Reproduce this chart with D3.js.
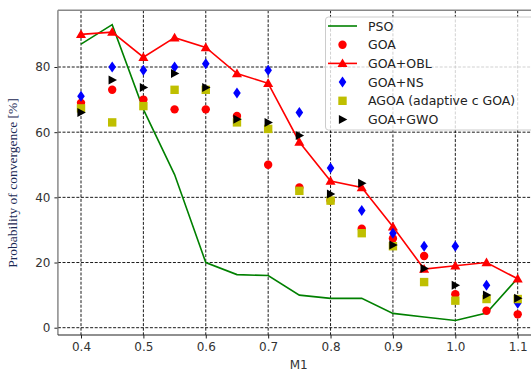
<!DOCTYPE html>
<html>
<head>
<meta charset="utf-8">
<script src="https://cdn.jsdelivr.net/npm/d3@7/dist/d3.min.js"></script>
<style>
  html, body { margin: 0; padding: 0; background: #fff; }
  svg { display: block; }
</style>
</head>
<body>
<svg id="chart" width="531" height="371"></svg>
<script>
// M1 settings on the horizontal axis
const m1 = [0.4, 0.45, 0.5, 0.55, 0.6, 0.65, 0.7, 0.75, 0.8, 0.85, 0.9, 0.95, 1.0, 1.05, 1.1];

// Probability of convergence [%] for each algorithm
const pso    = [87, 93, 67, 47, 20, 16.3, 16, 10, 9, 9, 4.4, 3.3, 2.2, 4.5, 15.2];
const goa    = [69, 73, 70, 67, 67, 65, 50, 43, 39, 30.4, 27.4, 22, 10.3, 5.2, 4.1];
const goaObl = [90, 90.7, 83, 89, 86, 78, 75, 57, 45, 43, 31, 18, 19, 20, 15];
const goaNs  = [71, 80, 79, 80, 81, 72, 79, 66, 49, 36, 29, 25, 25, 13, 7.5];
const agoa   = [67.3, 63, 68, 73, 73, 63, 61, 42, 39, 29, 25, 14, 8.3, 8.8, 8.8];
const goaGwo = [66, 76, 73.7, 78, 73.7, 64, 63, 59, 41, 44.3, 25.4, 18.2, 13, 10, 9];

const xTicks = [0.4, 0.5, 0.6, 0.7, 0.8, 0.9, 1.0, 1.1];
const yTicks = [0, 20, 40, 60, 80];

(function draw() {
  const svg = d3.select("#chart");
  const sansFont = "DejaVu Sans, sans-serif";

  const x = d3.scaleLinear().domain([0.4, 1.1]).range([81, 517.7]);
  const y = d3.scaleLinear().domain([0, 80]).range([327.7, 67]);

  const pLeft = x(0.363), pRight = x(1.135);
  const pTop = y(97.4), pBottom = y(-2.24);

  // grid
  const grid = svg.append("g");
  xTicks.forEach(t => {
    grid.append("line")
      .attr("x1", x(t)).attr("x2", x(t)).attr("y1", pTop).attr("y2", pBottom)
      .attr("stroke", "#000").attr("stroke-width", 0.9).attr("stroke-dasharray", "3,1.6");
  });
  yTicks.forEach(t => {
    grid.append("line")
      .attr("x1", pLeft).attr("x2", pRight).attr("y1", y(t)).attr("y2", y(t))
      .attr("stroke", "#000").attr("stroke-width", 0.9).attr("stroke-dasharray", "3,1.6");
  });

  // axes
  const xAxis = d3.axisBottom(x).tickValues(xTicks).tickFormat(d3.format(".1f")).tickSize(3.5).tickPadding(4);
  const yAxis = d3.axisLeft(y).tickValues(yTicks).tickFormat(d3.format("d")).tickSize(3.5).tickPadding(4);

  const gx = svg.append("g").attr("transform", `translate(0,${pBottom})`).call(xAxis);
  const gy = svg.append("g").attr("transform", `translate(${pLeft},0)`).call(yAxis);
  [gx, gy].forEach(g => {
    g.select(".domain").remove();
    g.selectAll(".tick line").attr("stroke", "#222");
    g.selectAll(".tick text")
      .attr("font-family", sansFont)
      .attr("font-size", 12)
      .attr("fill", "#333");
  });

  const lineGen = (vals) => d3.line().x((d, i) => x(m1[i])).y(d => y(d))(vals);

  // PSO line
  svg.append("path").attr("d", lineGen(pso))
    .attr("fill", "none").attr("stroke", "#008000").attr("stroke-width", 1.6);

  const marks = svg.append("g");

  // GOA circles
  marks.append("g").selectAll("circle").data(goa).join("circle")
    .attr("cx", (d, i) => x(m1[i])).attr("cy", d => y(d)).attr("r", 4.2)
    .attr("fill", "#ff0000");

  // GOA+OBL line with triangles
  marks.append("path").attr("d", lineGen(goaObl))
    .attr("fill", "none").attr("stroke", "#ff0000").attr("stroke-width", 1.6);
  const triUp = d3.symbol().type(d3.symbolTriangle).size(44);
  marks.append("g").selectAll("path").data(goaObl).join("path")
    .attr("d", triUp)
    .attr("transform", (d, i) => `translate(${x(m1[i])},${y(d) + 0.8})`)
    .attr("fill", "#ff0000");

  // GOA+NS diamonds
  const diamond = "M0,-5.5L3.8,0L0,5.5L-3.8,0Z";
  marks.append("g").selectAll("path").data(goaNs).join("path")
    .attr("d", diamond)
    .attr("transform", (d, i) => `translate(${x(m1[i])},${y(d)})`)
    .attr("fill", "#0000ff");

  // AGOA squares
  marks.append("g").selectAll("rect").data(agoa).join("rect")
    .attr("x", (d, i) => x(m1[i]) - 4.2).attr("y", d => y(d) - 4.2)
    .attr("width", 8.4).attr("height", 8.4)
    .attr("fill", "#bfbf00");

  // GOA+GWO right-pointing triangles
  const triRight = "M4.8,0L-3.6,-4.5L-3.6,4.5Z";
  marks.append("g").selectAll("path").data(goaGwo).join("path")
    .attr("d", triRight)
    .attr("transform", (d, i) => `translate(${x(m1[i])},${y(d)})`)
    .attr("fill", "#000");

  // spines
  svg.append("line").attr("x1", pLeft).attr("x2", pLeft).attr("y1", pTop).attr("y2", pBottom)
    .attr("stroke", "#777").attr("stroke-width", 1.3);
  svg.append("line").attr("x1", pLeft).attr("x2", pRight).attr("y1", pTop).attr("y2", pTop)
    .attr("stroke", "#888").attr("stroke-width", 1.5);
  svg.append("line").attr("x1", pLeft).attr("x2", pRight).attr("y1", pBottom).attr("y2", pBottom)
    .attr("stroke", "#222").attr("stroke-width", 1.2);

  // axis titles
  svg.append("text")
    .attr("x", (pLeft + pRight) / 2).attr("y", 368.5)
    .attr("text-anchor", "middle")
    .attr("font-family", sansFont).attr("font-size", 12).attr("fill", "#333")
    .text("M1");

  svg.append("text")
    .attr("transform", "translate(17,183) rotate(-90)")
    .attr("text-anchor", "middle")
    .attr("font-family", "Liberation Serif, serif").attr("font-size", 13.5).attr("fill", "#1c2a55")
    .text("Probability of convergence [%]");

  // legend
  const legend = svg.append("g");
  legend.append("rect")
    .attr("x", 325.5).attr("y", 17).attr("width", 215).attr("height", 113)
    .attr("rx", 3).attr("fill", "#fff").attr("fill-opacity", 0.8)
    .attr("stroke", "#ccc").attr("stroke-width", 1);

  const entries = [
    { name: "PSO", kind: "line", color: "#008000" },
    { name: "GOA", kind: "circle", color: "#ff0000" },
    { name: "GOA+OBL", kind: "lineTri", color: "#ff0000" },
    { name: "GOA+NS", kind: "diamond", color: "#0000ff" },
    { name: "AGOA (adaptive c GOA)", kind: "square", color: "#bfbf00" },
    { name: "GOA+GWO", kind: "triRight", color: "#000" }
  ];
  const lx0 = 328, lx1 = 357, mx = 342.5, tx = 368;
  entries.forEach((e, i) => {
    const cy = 26 + i * 18.7;
    const g = legend.append("g");
    if (e.kind === "line" || e.kind === "lineTri") {
      g.append("line").attr("x1", lx0).attr("x2", lx1).attr("y1", cy).attr("y2", cy)
        .attr("stroke", e.color).attr("stroke-width", 1.6);
    }
    if (e.kind === "lineTri") {
      g.append("path").attr("d", triUp).attr("transform", `translate(${mx},${cy + 0.8})`).attr("fill", e.color);
    } else if (e.kind === "circle") {
      g.append("circle").attr("cx", mx).attr("cy", cy).attr("r", 4.2).attr("fill", e.color);
    } else if (e.kind === "diamond") {
      g.append("path").attr("d", diamond).attr("transform", `translate(${mx},${cy})`).attr("fill", e.color);
    } else if (e.kind === "square") {
      g.append("rect").attr("x", mx - 4.2).attr("y", cy - 4.2).attr("width", 8.4).attr("height", 8.4).attr("fill", e.color);
    } else if (e.kind === "triRight") {
      g.append("path").attr("d", triRight).attr("transform", `translate(${mx},${cy})`).attr("fill", e.color);
    }
    g.append("text").attr("x", tx).attr("y", cy).attr("dy", "0.36em")
      .attr("font-family", sansFont).attr("font-size", 12.5).attr("fill", "#222")
      .text(e.name);
  });
})();
</script>
</body>
</html>
